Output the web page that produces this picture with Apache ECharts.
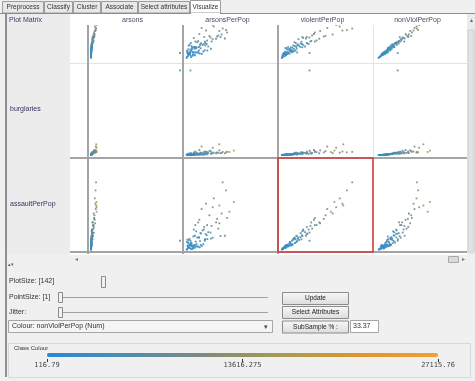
<!DOCTYPE html>
<html>
<head>
<meta charset="utf-8">
<script src="https://cdn.jsdelivr.net/npm/echarts@6/dist/echarts.min.js"></script>
<style>
html, body { margin: 0; padding: 0; background: #f0f0f0; }
#chart { width: 475px; height: 381px; }
</style>
</head>
<body>
<div id="chart"></div>
<script>
// Weka Explorer > Visualize tab: scatter plot matrix coloured by nonViolPerPop
var tabs = ['Preprocess', 'Classify', 'Cluster', 'Associate', 'Select attributes', 'Visualize'];
var colAttrs = ['arsons', 'arsonsPerPop', 'violentPerPop', 'nonViolPerPop'];
var rowAttrs = ['burglPerPop', 'burglaries', 'assaultPerPop']; // top row is scrolled half out of view
var colourTicks = [116.79, 13616.275, 27115.76];

// full data ranges, every cell is scaled on these
var attrMin = {arsons: 0, arsonsPerPop: 0, violentPerPop: 0, nonViolPerPop: 116.79, burglPerPop: 0, burglaries: 0, assaultPerPop: 0};
var attrMax = {arsons: 4900, arsonsPerPop: 400, violentPerPop: 5000, nonViolPerPop: 27115.76, burglPerPop: 12000, burglaries: 100000, assaultPerPop: 5000};

// sub-sampled instances
var nonViolPerPop = [2100, 2850, 3400, 1650, 4100, 3700, 2500, 5200, 4600, 3100, 1900, 6100, 5700, 2300, 3900, 4400, 2700, 3300, 6800, 7400,
    1300, 4900, 3600, 2000, 5500, 3000, 4300, 2600, 6400, 3800, 900, 1500, 4800, 5900, 2200, 3500, 8200, 9100, 7800, 10500,
    11800, 9800, 13200, 12400, 8800, 7100, 10100, 14500, 8500, 6600, 11000, 9400, 7600, 5300, 12900, 6200, 8000, 15800, 6700, 12500,
    2400, 3200, 4500, 1800, 5000, 2900, 3600, 4200, 1100, 5600, 2750, 3950, 4700, 2050, 6300, 3450, 2450, 5100, 7000, 1700,
    3750, 4450, 2950, 5450, 8700, 9900, 7300, 10800, 16500, 11500];
var burglPerPop = [1150, 1480, 1720, 820, 2150, 1500, 1300, 2800, 2900, 1600, 1200, 3300, 2600, 1050, 1900, 2500, 1650, 1850, 3650, 3700,
    650, 2250, 2100, 1080, 2950, 1260, 2480, 1380, 3000, 2250, 420, 760, 2600, 3400, 1200, 1800, 4500, 5200, 3900, 5800,
    6400, 4700, 7000, 6700, 4300, 3800, 5100, 7600, 4400, 3400, 5500, 4900, 4150, 2550, 6000, 3200, 4250, 8200, 1400, 6300,
    1500, 1400, 2100, 950, 3100, 1700, 1650, 2600, 580, 2700, 1250, 2300, 2350, 1350, 3550, 1950, 1100, 2850, 3300, 1000,
    2400, 1900, 1550, 3200, 3700, 4600, 4600, 4800, 7800, 5900];
var violentPerPop = [210, 420, 650, 95, 520, 910, 180, 780, 690, 380, 350, 1480, 860, 260, 820, 560, 230, 500, 1150, 1900,
    70, 720, 340, 290, 910, 480, 640, 150, 1250, 470, 45, 220, 1090, 830, 240, 560, 1600, 1850, 2000, 2200,
    2600, 2400, 3100, 3300, 1400, 1700, 2900, 3500, 1250, 1450, 1900, 1750, 980, 1200, 3700, 1550, 2150, 2800, 1600, 4000,
    300, 260, 430, 130, 950, 540, 700, 400, 110, 1350, 160, 880, 310, 400, 760, 620, 90, 1020, 1100, 270,
    250, 760, 590, 1180, 1650, 1450, 1200, 2500, 3000, 3450];
var assaultPerPop = [130, 210, 300, 70, 420, 760, 150, 390, 600, 190, 290, 920, 800, 110, 610, 250, 200, 450, 600, 1400,
    40, 640, 240, 160, 500, 400, 330, 120, 1100, 260, 25, 175, 720, 420, 230, 300, 980, 1700, 1400, 1500,
    2300, 1750, 2400, 2900, 800, 1550, 2050, 2500, 1150, 900, 1800, 1200, 690, 1050, 3350, 1150, 1550, 2150, 520, 3800,
    260, 180, 320, 115, 620, 330, 580, 240, 55, 1000, 140, 470, 290, 220, 700, 520, 80, 560, 950, 245,
    200, 680, 290, 830, 1350, 1300, 780, 1950, 2700, 2600];
var arsonsPerPop = [12, 45, 18, 28, 10, 33, 62, 25, 87, 30, 15, 68, 40, 10, 96, 28, 52, 4, 85, 42,
    5, 112, 26, 34, 63, 11, 48, 17, 75, 38, 3, 9, 58, 22, 71, 24, 110, 60, 95, 150,
    70, 140, 120, 125, 175, 55, 160, 150, 35, 88, 185, 145, 120, 46, 180, 80, 135, 195, 20, 165,
    8, 55, 20, 40, 16, 78, 6, 36, 22, 100, 14, 44, 66, 7, 50, 84, 31, 12, 65, 19,
    27, 58, 39, 93, 115, 82, 155, 105, 215, 90];
var arsons = [4, 9, 15, 2, 22, 11, 6, 38, 28, 7, 3, 45, 70, 5, 19, 25, 8, 12, 90, 120,
    1, 33, 14, 4, 41, 10, 21, 6, 55, 16, 0, 2, 30, 48, 5, 13, 160, 200, 140, 230,
    260, 180, 300, 210, 110, 75, 150, 290, 95, 80, 170, 130, 65, 35, 250, 50, 100, 310, 4900, 280,
    3, 9, 18, 2, 27, 7, 11, 24, 1, 52, 5, 20, 31, 3, 60, 12, 4, 36, 85, 2,
    14, 26, 8, 44, 125, 150, 90, 190, 300, 240];
var burglaries = [180, 420, 610, 95, 930, 520, 260, 1540, 1210, 350, 140, 2100, 2650, 230, 780, 1020, 310, 470, 3100, 3900,
    60, 1380, 560, 160, 1850, 380, 860, 290, 2450, 690, 30, 85, 1120, 1990, 200, 530, 4800, 5600, 3300, 5200,
    9500, 2900, 8200, 2600, 1800, 1400, 2200, 12000, 2700, 1650, 3600, 2400, 1750, 900, 3000, 1250, 1950, 3400, 95000, 3500,
    240, 410, 700, 120, 1600, 330, 480, 990, 45, 2300, 220, 870, 1300, 170, 2500, 600, 190, 1450, 2800, 110,
    640, 950, 360, 1750, 3000, 3800, 2100, 4300, 5000, 3900];

var attrData = {
    arsons: arsons, arsonsPerPop: arsonsPerPop, violentPerPop: violentPerPop, nonViolPerPop: nonViolPerPop,
    burglPerPop: burglPerPop, burglaries: burglaries, assaultPerPop: assaultPerPop
};

var cellX = [88, 183, 278, 373];
var cellY = [-32, 63, 158];
var cellSize = 95;
var uiFont = '"Liberation Sans", Arial, sans-serif';

var grids = [], xAxes = [], yAxes = [], series = [], cellSeries = [];
rowAttrs.forEach(function (ra, r) {
    colAttrs.forEach(function (ca, c) {
        var i = grids.length;
        grids.push({left: cellX[c] + 3, top: cellY[r] + 3, width: cellSize - 6, height: cellSize - 6});
        xAxes.push({gridIndex: i, type: 'value', min: attrMin[ca], max: attrMax[ca], show: false});
        yAxes.push({gridIndex: i, type: 'value', min: attrMin[ra], max: attrMax[ra], show: false});
        cellSeries.push(series.length);
        series.push({
            type: 'scatter',
            xAxisIndex: i,
            yAxisIndex: i,
            symbol: 'rect',
            symbolSize: 1.8,
            silent: true,
            itemStyle: {opacity: 0.9},
            data: attrData[ca].map(function (v, k) {
                return [v, attrData[ra][k], nonViolPerPop[k]];
            })
        });
    });
});

// axis under the class colour bar
var barGrid = grids.length;
grids.push({left: 47, top: 358, width: 391, height: 1});
xAxes.push({
    gridIndex: barGrid, type: 'value', min: colourTicks[0], max: colourTicks[2],
    axisLine: {show: false}, splitLine: {show: false},
    axisTick: {customValues: colourTicks, length: 3, lineStyle: {color: '#333'}},
    axisLabel: {
        customValues: colourTicks, margin: 3, fontFamily: '"DejaVu Sans Mono", monospace', fontSize: 7, color: '#444',
        showMinLabel: true, showMaxLabel: true,
        formatter: function (v) { return String(v); }
    }
});
yAxes.push({gridIndex: barGrid, type: 'value', show: false});

function rect(x, y, w, h, fill, stroke, z, lw) {
    return {type: 'rect', z: z, shape: {x: x, y: y, width: w, height: h},
        style: {fill: fill || 'none', stroke: stroke || null, lineWidth: lw || 1}};
}
function line(x1, y1, x2, y2, color, w, z) {
    return {type: 'line', z: z, shape: {x1: x1, y1: y1, x2: x2, y2: y2}, style: {stroke: color, lineWidth: w}};
}
function label(str, x, y, size, color, align, z, family) {
    return {type: 'text', z: z, style: {text: str, x: x, y: y, fill: color, textAlign: align || 'left',
        textVerticalAlign: 'middle', font: size + 'px ' + (family || uiFont)}};
}

var g = [];
// matrix background
g.push(rect(70, 14, 397, 241, '#ffffff', null, 0));
g.push(rect(6, 14, 64, 241, '#ececec', null, 0));
g.push(line(70, 63.5, 467, 63.5, '#e2e2e2', 1, 1));
g.push(line(373.5, 25, 373.5, 158, '#e4e4e4', 1, 1));

// tab strip
g.push(rect(0, 0, 475, 13, '#f0f0f0', null, 10));
var tabX = [2, 44, 73, 101, 138, 190, 221];
tabs.forEach(function (t, i) {
    var sel = i === tabs.length - 1;
    g.push(rect(tabX[i] + 0.5, sel ? 0.5 : 1.5, tabX[i + 1] - tabX[i] - 1, sel ? 12.5 : 11.5, sel ? '#ffffff' : '#e8e8e8', '#9c9c9c', 11));
    g.push(label(t, (tabX[i] + tabX[i + 1]) / 2, 7, 6.5, '#333', 'center', 12));
});
g.push(line(0, 13.5, 475, 13.5, '#8c8c8c', 1, 11));
g.push(line(191, 13.5, 220, 13.5, '#ffffff', 1, 12));

// column headers (fixed) and row labels
g.push(rect(70, 14, 397, 11, '#ffffff', null, 10));
colAttrs.forEach(function (a, c) {
    g.push(label(a, cellX[c] + cellSize / 2 - 3, 20, 7, '#4a4a6a', 'center', 12));
});
g.push(label('Plot Matrix', 9, 20, 7, '#3a3a6e', 'left', 12));
rowAttrs.forEach(function (a, r) {
    if (r > 0) g.push(label(a, 10, cellY[r] + cellSize / 2 - 1, 7, '#33335f', 'left', 12));
});

// cell borders
[88, 183, 278].forEach(function (x) { g.push(line(x, 25, x, 254, '#a4a4a4', 2, 12)); });
[158, 252].forEach(function (y) { g.push(line(70, y, 467, y, '#a4a4a4', 2, 12)); });
g.push(rect(278, 158, 95, 94, null, '#d23c3c', 13, 1.6));

// scrollbars
g.push(rect(467, 14, 8, 241, '#ebebeb', null, 10));
g.push(rect(468, 30, 6, 222, '#e2e2e2', '#cfcfcf', 11));
g.push(label('\u25B4', 471, 20, 6, '#666', 'center', 12));
g.push(rect(70, 255, 405, 8, '#f0f0f0', null, 10));
g.push(label('\u25C2', 76, 259, 6, '#777', 'center', 12));
g.push(label('\u25B8', 463, 259, 6, '#777', 'center', 12));
g.push(rect(448.5, 256.5, 10, 6, '#dadada', '#a8a8a8', 12));
g.push(label('\u25B4\u25BE', 8, 265, 5, '#555', 'left', 12));

// panel left edge
g.push(line(6, 14, 6, 377, '#707070', 1.5, 12));

// sliders
g.push(label('PlotSize: [142]', 9, 281, 7, '#333', 'left', 12));
g.push(rect(101.5, 276.5, 4, 11, '#f2f2f2', '#8a8a8a', 12));
g.push(label('PointSize: [1]', 9, 297, 7, '#333', 'left', 12));
g.push(line(61, 297.5, 268, 297.5, '#a0a0a0', 1, 12));
g.push(rect(58.5, 292.5, 4, 10, '#f2f2f2', '#8a8a8a', 13));
g.push(label('Jitter:', 9, 312, 7, '#333', 'left', 12));
g.push(line(61, 312.5, 268, 312.5, '#a0a0a0', 1, 12));
g.push(rect(58.5, 307.5, 4, 10, '#f2f2f2', '#8a8a8a', 13));

// colour combo
g.push(rect(8.5, 320.5, 264, 12, '#f5f5f5', '#a6a6a6', 12));
g.push(label('Colour: nonViolPerPop (Num)', 12, 326.5, 7, '#333', 'left', 13));
g.push(label('\u25BE', 266, 327, 7, '#444', 'center', 13));

// buttons
[['Update', 292], ['Select Attributes', 306], ['SubSample % :', 320.5]].forEach(function (b) {
    g.push({type: 'rect', z: 12, shape: {x: 282.5, y: b[1] + 0.5, width: 66, height: 12},
        style: {fill: new echarts.graphic.LinearGradient(0, 0, 0, 1, [{offset: 0, color: '#f8f8f8'}, {offset: 1, color: '#dcdcdc'}]),
            stroke: '#8c8c8c', lineWidth: 1}});
    g.push(label(b[0], 315.5, b[1] + 6.5, 6.5, '#222', 'center', 13));
});
g.push(rect(350.5, 320.5, 28, 12, '#ffffff', '#a6a6a6', 12));
g.push(label('33.37', 353, 326.5, 7, '#333', 'left', 13));

// class colour panel
g.push(rect(8.5, 343.5, 462, 34, null, '#d8d8d8', 11));
g.push(label('Class Colour', 14, 348, 6, '#333', 'left', 12));

var chart = echarts.init(document.getElementById('chart'));
chart.setOption({
    animation: false,
    backgroundColor: '#f0f0f0',
    grid: grids,
    xAxis: xAxes,
    yAxis: yAxes,
    visualMap: {
        type: 'continuous',
        min: colourTicks[0],
        max: colourTicks[2],
        dimension: 2,
        seriesIndex: cellSeries,
        orient: 'horizontal',
        left: 47,
        top: 353,
        itemWidth: 4,
        itemHeight: 391,
        padding: 0,
        calculable: false,
        hoverLink: false,
        text: null,
        inRange: {color: ['#2a88d6', '#4b8fae', '#7e8b7e', '#a89a52', '#e0952e', '#f2a032']}
    },
    graphic: {elements: g},
    series: series
});
</script>
</body>
</html>
